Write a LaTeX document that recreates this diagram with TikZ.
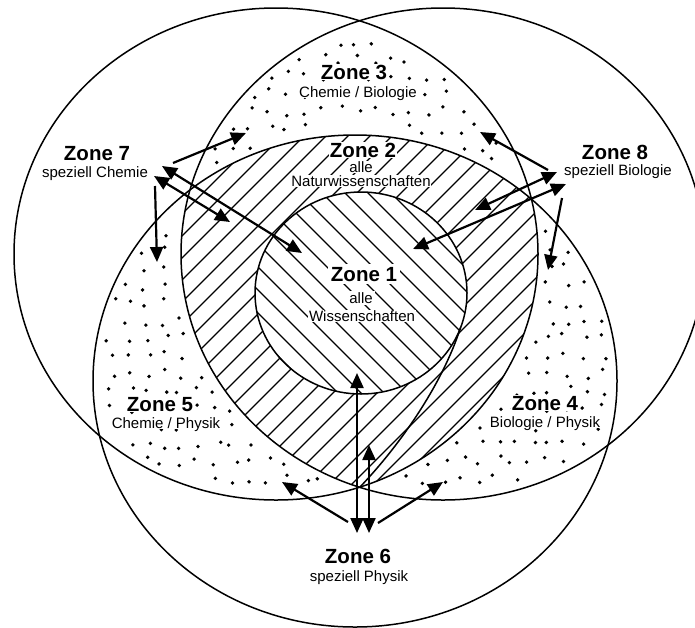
\documentclass[tikz,border=0pt]{standalone}
\usepackage{fontspec}
\setmainfont{Liberation Sans}
\usetikzlibrary{arrows.meta}
\begin{document}
\begin{tikzpicture}[x=1pt,y=-1pt,
  ring/.style={line width=1.5pt},
  hatchline/.style={line width=1.3pt},
  zonetitle/.style={font=\bfseries\fontsize{20.5}{22}\selectfont, inner sep=1pt, text height=14.8pt, text depth=0pt},
  zonesub/.style={font=\fontsize{15}{17}\selectfont, inner sep=1pt, text height=10.8pt, text depth=0pt},
  arr/.style={line width=2.2pt, -{Triangle[length=15pt,width=13pt]}},
  darr/.style={line width=2.2pt, {Triangle[length=15pt,width=13pt]}-{Triangle[length=15pt,width=13pt]}},
  bigell/.style={x radius=262pt, y radius=246pt},
  innerell/.style={x radius=106pt, y radius=101pt},
]
\useasboundingbox (0,0) rectangle (695,627);
\clip (0,0) rectangle (695,627);
\fill[white] (0,0) rectangle (695,627);
\coordinate (cL) at (276,254);
\coordinate (cR) at (443,254);
\coordinate (cB) at (355,381);
\coordinate (cI) at (361,293);

% stipple in the pairwise overlaps
\pgfmathsetseed{12}
\foreach \i in {0,...,39}{
  \foreach \j in {0,...,35}{
    \pgfmathsetmacro\px{\i*17.5+6+5*rand}
    \pgfmathsetmacro\py{\j*17.5+6+5*rand}
    \pgfmathsetmacro\ea{((\px-276)/262)*((\px-276)/262)+((\py-254)/246)*((\py-254)/246)}
    \pgfmathsetmacro\eb{((\px-443)/262)*((\px-443)/262)+((\py-254)/246)*((\py-254)/246)}
    \pgfmathsetmacro\ec{((\px-355)/262)*((\px-355)/262)+((\py-381)/246)*((\py-381)/246)}
    \pgfmathtruncatemacro\n{(\ea<0.95)+(\eb<0.95)+(\ec<0.95)}
    \pgfmathtruncatemacro\m{(\ea>1.05)+(\eb>1.05)+(\ec>1.05)}
    \ifnum\n=2 \ifnum\m=1 \fill (\px,\py) circle (1.9pt);\fi\fi
  }
}

% zone 2: triple overlap, hatched
\begin{scope}
  \clip (cL) ellipse [bigell];
  \clip (cR) ellipse [bigell];
  \clip (cB) ellipse [bigell];
  \fill[white] (0,0) rectangle (695,627);
  \foreach \a in {-300,-278,...,640} \draw[hatchline] (\a,520) -- ++(430,-430);
\end{scope}

% zone 1
\begin{scope}
  \clip (cI) ellipse [innerell];
  \fill[white] (0,0) rectangle (695,627);
  \foreach \a in {0,23,...,520} \draw[hatchline] (\a,170) -- ++(260,260);
\end{scope}
\draw[ring] (cI) ellipse [innerell];
% tail of zone 1 down to the lower meeting point
\coordinate (t1) at (460.6,327.5);
\coordinate (bv) at (360,487);
\draw[ring] (t1) .. controls (442,385) and (400,445) .. (bv);

% the three big circles
\draw[ring] (cL) ellipse [bigell];
\draw[ring] (cR) ellipse [bigell];
\draw[ring] (cB) ellipse [bigell];

% labels
\node[zonetitle, fill=white] (z3) at (354,72) {Zone 3};
\node[zonesub, fill=white] (z3s) at (358,92) {Chemie / Biologie};
\node[zonetitle, fill=white] (z2) at (363,150) {Zone 2};
\node[zonesub, fill=white, inner sep=0.5pt] (z2a) at (361,167) {alle};
\node[zonesub, fill=white, inner sep=0.5pt] (z2s) at (361,181) {Naturwissenschaften};
\node[zonetitle, fill=white, inner sep=3pt] (z1) at (364,274) {Zone 1};
\node[zonesub, fill=white, inner sep=2pt] (z1a) at (361,298) {alle};
\node[zonesub, fill=white, inner sep=1pt] (z1s) at (362,316) {Wissenschaften};
\node[zonetitle, fill=white] (z5) at (160,404) {Zone 5};
\node[zonesub, fill=white] (z5s) at (166,423) {Chemie / Physik};
\node[zonetitle, fill=white] (z4) at (545,403) {Zone 4};
\node[zonesub, fill=white] (z4s) at (545,422) {Biologie / Physik};
\node[zonetitle] (z7) at (97,153) {Zone 7};
\node[zonesub] (z7s) at (95,172) {speziell Chemie};
\node[zonetitle] (z8) at (615,152) {Zone 8};
\node[zonesub] (z8s) at (618,170) {speziell Biologie};
\node[zonetitle] (z6) at (358,556) {Zone 6};
\node[zonesub] (z6s) at (359,576) {speziell Physik};

% arrow end points
\coordinate (p7a) at (173,163);  \coordinate (q7a) at (246,133);
\coordinate (p7b) at (162,166);  \coordinate (q7b) at (302,253);
\coordinate (p7c) at (154,176);  \coordinate (q7c) at (230,222);
\coordinate (p7d) at (155,186);  \coordinate (q7d) at (157,262);
\coordinate (p8a) at (548,170);  \coordinate (q8a) at (480,132);
\coordinate (p8b) at (557,172);  \coordinate (q8b) at (475,210);
\coordinate (p8c) at (566,184);  \coordinate (q8c) at (413,249);
\coordinate (p8d) at (562,198);  \coordinate (q8d) at (548,270);
\coordinate (p6a) at (357,533);  \coordinate (q6a) at (357,373);
\coordinate (p6b) at (369,533);  \coordinate (q6b) at (369,445);
\coordinate (p6c) at (348,522);  \coordinate (q6c) at (282,482);
\coordinate (p6d) at (378,523);  \coordinate (q6d) at (443,482);

\draw[arr] (p7a) -- (q7a);
\draw[darr] (p7b) -- (q7b);
\draw[darr] (p7c) -- (q7c);
\draw[arr] (p7d) -- (q7d);
\draw[arr] (p8a) -- (q8a);
\draw[darr] (p8b) -- (q8b);
\draw[darr] (p8c) -- (q8c);
\draw[arr] (p8d) -- (q8d);
\draw[darr] (p6a) -- (q6a);
\draw[darr] (p6b) -- (q6b);
\draw[arr] (p6c) -- (q6c);
\draw[arr] (p6d) -- (q6d);
\end{tikzpicture}
\end{document}
